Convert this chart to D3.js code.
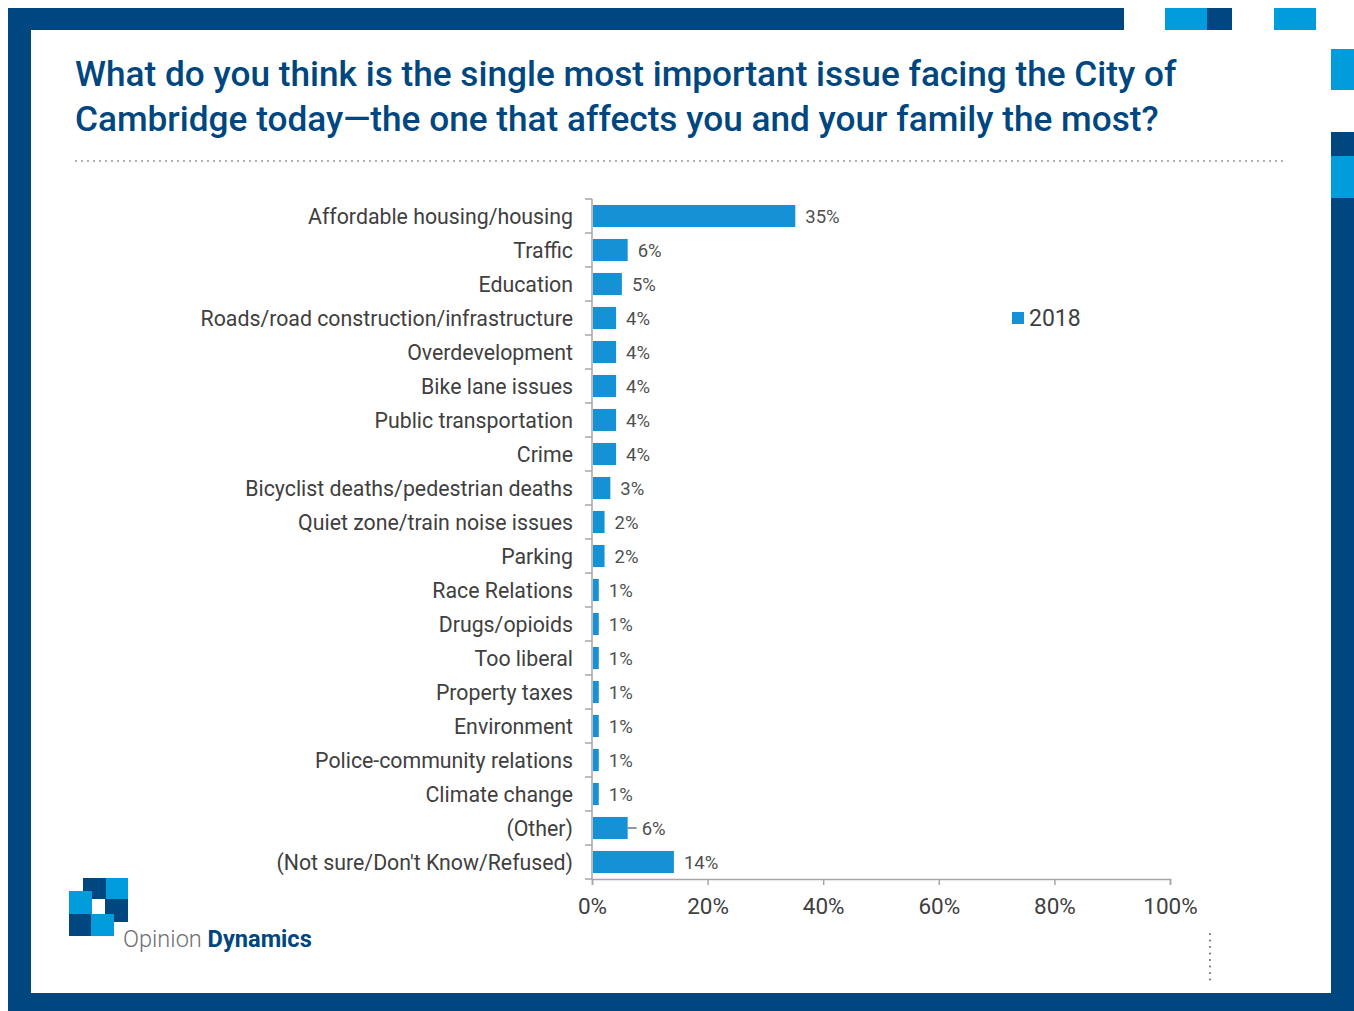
<!DOCTYPE html>
<html>
<head>
<meta charset="utf-8">
<script src="https://cdn.jsdelivr.net/npm/d3@7"></script>
<style>
  body { margin: 0; background: #ffffff; }
  svg { display: block; }
</style>
</head>
<body>
<svg id="chart" width="1354" height="1011"></svg>
<script>
// Survey responses: most important issue facing the City of Cambridge
const categories = [
  "Affordable housing/housing",
  "Traffic",
  "Education",
  "Roads/road construction/infrastructure",
  "Overdevelopment",
  "Bike lane issues",
  "Public transportation",
  "Crime",
  "Bicyclist deaths/pedestrian deaths",
  "Quiet zone/train noise issues",
  "Parking",
  "Race Relations",
  "Drugs/opioids",
  "Too liberal",
  "Property taxes",
  "Environment",
  "Police-community relations",
  "Climate change",
  "(Other)",
  "(Not sure/Don't Know/Refused)"
];
const values2018 = [35, 6, 5, 4, 4, 4, 4, 4, 3, 2, 2, 1, 1, 1, 1, 1, 1, 1, 6, 14];
const seriesName = "2018";
const xTickValues = [0, 20, 40, 60, 80, 100];
const titleLines = [
  "What do you think is the single most important issue facing the City of",
  "Cambridge today\u2014the one that affects you and your family the most?"
];

const NAVY = "#00467f";
const CYAN = "#009cdc";
const BAR = "#1592d6";
const TEXT = "#404040";
const AXIS = "#a6a6a6";
const FONT = "Roboto, 'Liberation Sans', sans-serif";

const svg = d3.select("#chart");

// ---- Slide frame ----
const frame = svg.append("g");
frame.append("rect").attr("x", 8).attr("y", 8).attr("width", 1116).attr("height", 22).attr("fill", NAVY);
frame.append("rect").attr("x", 8).attr("y", 8).attr("width", 23).attr("height", 1003).attr("fill", NAVY);
frame.append("rect").attr("x", 8).attr("y", 993).attr("width", 1346).attr("height", 18).attr("fill", NAVY);
frame.append("rect").attr("x", 1331).attr("y", 198).attr("width", 23).attr("height", 813).attr("fill", NAVY);
// decorative blocks along the top and right edge
frame.append("rect").attr("x", 1165).attr("y", 8).attr("width", 42).attr("height", 22).attr("fill", CYAN);
frame.append("rect").attr("x", 1207).attr("y", 8).attr("width", 25).attr("height", 22).attr("fill", NAVY);
frame.append("rect").attr("x", 1274).attr("y", 8).attr("width", 42).attr("height", 22).attr("fill", CYAN);
frame.append("rect").attr("x", 1331).attr("y", 49).attr("width", 23).attr("height", 41).attr("fill", CYAN);
frame.append("rect").attr("x", 1331).attr("y", 132).attr("width", 23).attr("height", 24).attr("fill", NAVY);
frame.append("rect").attr("x", 1331).attr("y", 156).attr("width", 23).attr("height", 42).attr("fill", CYAN);

// ---- Title ----
const title = svg.append("text")
  .attr("x", 75).attr("y", 86)
  .attr("fill", NAVY)
  .attr("font-family", FONT)
  .attr("font-weight", 500)
  .attr("font-size", 35.2);
title.selectAll("tspan").data(titleLines).join("tspan")
  .attr("x", 75)
  .attr("dy", (d, i) => i === 0 ? 0 : 45)
  .text(d => d);

// dotted rule under the title
svg.append("line")
  .attr("x1", 76).attr("x2", 1283).attr("y1", 161).attr("y2", 161)
  .attr("stroke", "#8a8a8a").attr("stroke-width", 1.8)
  .attr("stroke-linecap", "round").attr("stroke-dasharray", "0 6");

// ---- Chart scales ----
const x = d3.scaleLinear().domain([0, 100]).range([592, 1170]);
const y = d3.scaleBand().domain(categories).range([199, 879])
  .paddingInner(0.35).paddingOuter(0.175);

const plot = svg.append("g");

// bars
plot.selectAll("rect.bar").data(categories).join("rect")
  .attr("class", "bar")
  .attr("x", x(0) + 1)
  .attr("y", d => y(d))
  .attr("width", (d, i) => x(values2018[i]) - x(0))
  .attr("height", y.bandwidth())
  .attr("fill", BAR);

// category labels
const yAxis = plot.append("g")
  .attr("transform", `translate(${x(0)},0)`)
  .call(d3.axisLeft(y).tickSize(0).tickPadding(19));
yAxis.select(".domain").remove();
yAxis.selectAll("text")
  .attr("fill", TEXT)
  .attr("font-family", FONT)
  .attr("font-size", 21.3)
  .attr("dy", "0.38em");

// vertical axis line with ticks between categories
const step = y.step();
const y0 = y.range()[0];
plot.append("line")
  .attr("x1", x(0)).attr("x2", x(0))
  .attr("y1", y0).attr("y2", y.range()[1])
  .attr("stroke", AXIS).attr("stroke-width", 1.5);
plot.selectAll("line.ytick").data(d3.range(categories.length + 1)).join("line")
  .attr("class", "ytick")
  .attr("x1", x(0) - 7).attr("x2", x(0))
  .attr("y1", i => y0 + i * step).attr("y2", i => y0 + i * step)
  .attr("stroke", AXIS).attr("stroke-width", 1.5);

// horizontal value axis
const xAxis = plot.append("g")
  .attr("transform", `translate(0,${y.range()[1]})`)
  .call(d3.axisBottom(x).tickValues(xTickValues).tickFormat(d => d + "%")
    .tickSize(6).tickSizeOuter(6).tickPadding(13));
xAxis.select(".domain").attr("stroke", AXIS).attr("stroke-width", 1.5);
xAxis.selectAll(".tick line").attr("stroke", AXIS).attr("stroke-width", 1.5);
xAxis.selectAll("text")
  .attr("fill", TEXT)
  .attr("font-family", FONT)
  .attr("font-size", 22.5);

// value labels
const labelGap = (d, i) => categories[i] === "(Other)" ? 15 : 11;
plot.selectAll("text.val").data(categories).join("text")
  .attr("class", "val")
  .attr("x", (d, i) => x(values2018[i]) + labelGap(d, i))
  .attr("y", d => y(d) + y.bandwidth() / 2)
  .attr("dy", "0.36em")
  .attr("fill", "#505050")
  .attr("font-family", FONT)
  .attr("font-size", 18.5)
  .text((d, i) => values2018[i] + "%");

// leader line for the "(Other)" label
const otherIdx = categories.indexOf("(Other)");
plot.append("line")
  .attr("x1", x(values2018[otherIdx]) + 1).attr("x2", x(values2018[otherIdx]) + 10)
  .attr("y1", y("(Other)") + y.bandwidth() / 2).attr("y2", y("(Other)") + y.bandwidth() / 2)
  .attr("stroke", "#505050").attr("stroke-width", 1.2);

// legend
const legend = svg.append("g").attr("transform", "translate(1012,312)");
legend.append("rect").attr("width", 12).attr("height", 12).attr("fill", BAR);
legend.append("text")
  .attr("x", 17).attr("y", 6).attr("dy", "0.36em")
  .attr("fill", TEXT)
  .attr("font-family", FONT)
  .attr("font-size", 23)
  .text(seriesName);

// small dotted vertical mark at lower right
svg.append("line")
  .attr("x1", 1210).attr("x2", 1210).attr("y1", 934).attr("y2", 980)
  .attr("stroke", "#555").attr("stroke-width", 1.8)
  .attr("stroke-linecap", "round").attr("stroke-dasharray", "0 6.5");

// ---- Logo ----
const logo = svg.append("g");
const blocks = [
  { x: 83, y: 878, w: 23, h: 21, c: NAVY },
  { x: 106, y: 878, w: 22, h: 21, c: CYAN },
  { x: 69, y: 891, w: 23, h: 23, c: CYAN },
  { x: 105, y: 899, w: 23, h: 23, c: NAVY },
  { x: 69, y: 914, w: 22, h: 22, c: NAVY },
  { x: 91, y: 914, w: 23, h: 22, c: CYAN },
  { x: 92, y: 899, w: 13, h: 15, c: "#ffffff" }
];
logo.selectAll("rect").data(blocks).join("rect")
  .attr("x", d => d.x).attr("y", d => d.y)
  .attr("width", d => d.w).attr("height", d => d.h)
  .attr("fill", d => d.c);
const brand = logo.append("text")
  .attr("x", 123).attr("y", 947)
  .attr("font-family", FONT)
  .attr("font-size", 23.6);
brand.append("tspan").attr("fill", "#707070").attr("font-weight", 300).text("Opinion ");
brand.append("tspan").attr("fill", NAVY).attr("font-weight", 700).text("Dynamics");
</script>
</body>
</html>
